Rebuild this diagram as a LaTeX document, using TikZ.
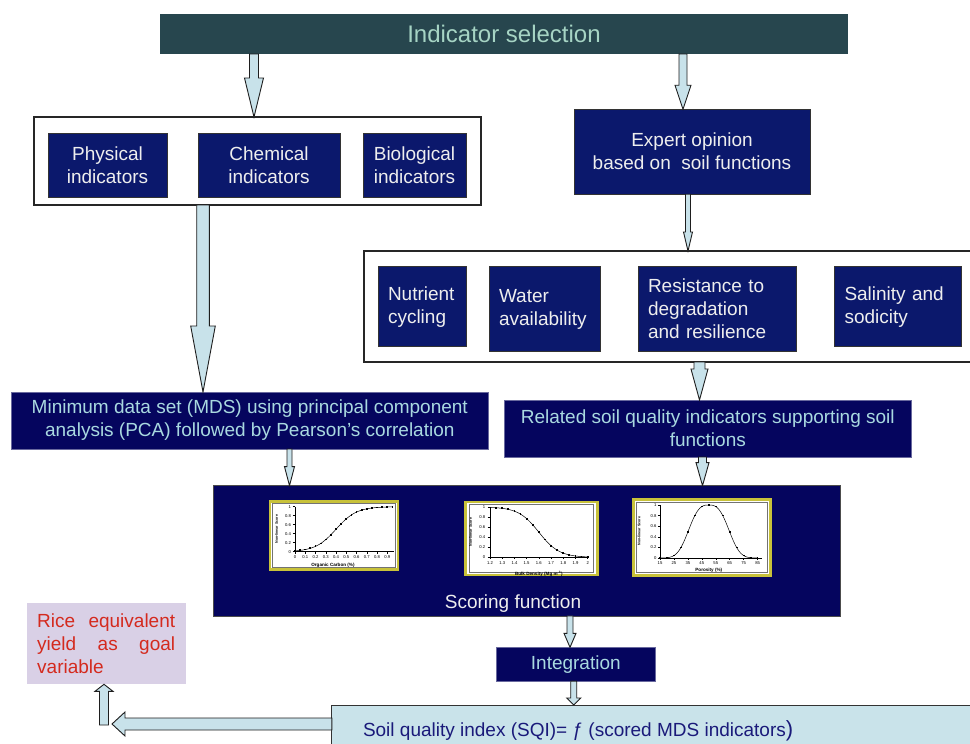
\documentclass[tikz,border=0pt]{standalone}
\usepackage{fontspec}
\setmainfont{Liberation Sans}
\usetikzlibrary{calc}
\definecolor{titlefill}{HTML}{27464E}
\definecolor{titletxt}{HTML}{A6D4C4}
\definecolor{navyA}{HTML}{0B186C}
\definecolor{navyB}{HTML}{05055E}
\definecolor{boxtxt}{HTML}{EEEEEE}
\definecolor{cyantxt}{HTML}{A9D9E0}
\definecolor{arrfill}{HTML}{C8E2EA}
\definecolor{arrline}{HTML}{1E1E1E}
\definecolor{sqifill}{HTML}{C9E3EA}
\definecolor{sqitxt}{HTML}{1A1A7A}
\definecolor{ricefill}{HTML}{D9D0E6}
\definecolor{ricetxt}{HTML}{D42A1E}
\definecolor{gborder}{HTML}{C8C23A}
\newcommand{\blockarrow}[5]{%
  \path (#1) coordinate (baS) (#2) coordinate (baE);
  \path ($(baE)!#5!(baS)$) coordinate (baB);
  \draw[barrow] ($(baS)!#3!90:(baE)$) -- ($(baB)!#3!-90:(baS)$) -- ($(baB)!#4!-90:(baS)$)
    -- (baE) -- ($(baB)!#4!90:(baS)$) -- ($(baB)!#3!90:(baS)$) -- ($(baS)!#3!-90:(baE)$) -- cycle;
}
\tikzset{
  every node/.style={inner sep=0pt, outer sep=0pt},
  bigfont/.style={font=\fontsize{19}{23}\selectfont},
  frame/.style={draw=black!85, line width=1.1pt, fill=white},
  navyboxA/.style={draw=black!80, line width=0.8pt, fill=navyA, text=boxtxt, bigfont, align=center},
  navyboxL/.style={draw=black!80, line width=0.8pt, fill=navyA, text=boxtxt, bigfont, align=left, inner xsep=10pt},
  navyboxB/.style={draw=navyB!60!white, line width=0.6pt, fill=navyB, text=cyantxt, bigfont, align=center},
  barrow/.style={draw=arrline, line width=0.9pt, fill=arrfill, line join=miter},
  gframe/.style={draw=gborder, line width=2.6pt, fill=white},
  ginner/.style={draw=black!55, line width=0.6pt},
  gaxis/.style={draw=black, line width=0.45pt},
  gcurve/.style={draw=black, line width=0.5pt},
  gmark/.style={fill=black, draw=none},
  glab/.style={font=\fontsize{4.2}{5}\selectfont},
  gtitle/.style={font=\bfseries\fontsize{4.6}{5}\selectfont},
  gylab/.style={font=\bfseries\fontsize{3.6}{4}\selectfont, rotate=90},
}
\begin{document}
\begin{tikzpicture}[x=1pt,y=-1pt]
\useasboundingbox (0,0) rectangle (970,744);
\fill[white] (0,0) rectangle (970,744);

% title
\node[fill=titlefill, minimum width=688pt, minimum height=40pt, text=titletxt,
      font=\fontsize{24}{28}\selectfont] (title) at (504,34) {Indicator selection};

% left frame with indicator groups
\node[frame, minimum width=447pt, minimum height=88pt] (leftframe) at (257.5,161) {};
\node[navyboxA, minimum width=119pt, minimum height=64pt] (phys) at (107.5,165) {Physical\\indicators};
\node[navyboxA, minimum width=142pt, minimum height=64pt] (chem) at (269,165) {Chemical\\indicators};
\node[navyboxA, minimum width=103pt, minimum height=64pt] (bio) at (414.5,165) {Biological\\indicators};

% expert opinion
\node[navyboxA, minimum width=236pt, minimum height=85pt] (expert) at (692,151.7) {Expert opinion\\based on\ \ soil functions};

% right frame with soil functions
\node[frame, minimum width=611pt, minimum height=111pt] (rightframe) at (669.5,306.5) {};
\node[navyboxL, text width=68pt, minimum height=80pt] (nutrient) at (422,306.7) {Nutrient\\cycling};
\node[navyboxL, text width=91pt, minimum height=85pt] (water) at (544.5,309.2) {Water\\availability};
\node[navyboxL, text width=138pt, minimum height=85pt] (resist) at (717,309.2) {Resistance to\\degradation\\and resilience};
\node[navyboxL, text width=107pt, minimum height=80pt] (salinity) at (898,306.7) {Salinity and\\sodicity};

% MDS and related
\node[navyboxB, minimum width=477.7pt, minimum height=57pt] (mds) at (249.8,420.5)
  {Minimum data set (MDS) using principal component\\analysis (PCA) followed by Pearson’s correlation};
\node[navyboxB, minimum width=407.7pt, minimum height=57pt] (related) at (707.8,428.5)
  {Related soil quality indicators supporting soil\\functions};

% scoring function
\node[draw=black!70, line width=0.8pt, fill=navyB, minimum width=627pt, minimum height=130.3pt] (scoring) at (526.5,550.8) {};
\node[text=boxtxt, bigfont] (scorelab) at (513,604) {Scoring function};

% graph 1
\node[gframe, minimum width=128pt, minimum height=68pt] (g1) at (333.8,535.5) {};
\draw[ginner] (272,503.5) rectangle (395.6,567.5);
\begin{scope}[shift={(295,551.7)}, x=102.6pt, y=45pt]
  \draw[gaxis] (0,1) -- (0,0) -- (0.96,0);
  \foreach \v/\l in {0/0,0.2/0.2,0.4/0.4,0.6/0.6,0.8/0.8,1/1}{
    \draw[gaxis] (-0.02,\v) -- (0,\v);
    \node[glab, anchor=east] at (-0.04,\v) {\l};}
  \foreach \v/\l in {0/0,0.1/0.1,0.2/0.2,0.3/0.3,0.4/0.4,0.5/0.5,0.6/0.6,0.7/0.7,0.8/0.8,0.9/0.9}{
    \draw[gaxis] (\v,0) -- (\v,-0.04);
    \node[glab, anchor=north] at (\v,-0.08) {\l};}
  \draw[gcurve] plot[domain=0:0.95, samples=60, smooth] (\x,{1/(1+exp(-10*(\x-0.4)))});
  \foreach \t in {0,1,...,19}{
    \pgfmathsetmacro{\u}{\t*0.05}
    \fill[gmark] ($(\u,{1/(1+exp(-10*(\u-0.4)))})+(-0.9pt,-0.9pt)$) rectangle +(1.8pt,1.8pt);}
  \node[gtitle] at (0.37,-0.3) {Organic Carbon (\%)};
\end{scope}
\node[gylab] at (276.7,529) {Non-linear Score};

% graph 2
\node[gframe, minimum width=132pt, minimum height=73pt] (g2) at (531.2,538.5) {};
\draw[ginner] (469.5,504.5) rectangle (593,572.5);
\begin{scope}[shift={(490,557.3)}, x=122.1pt, y=50.3pt]
  \draw[gaxis] (0,1) -- (0,0) -- (0.8,0);
  \foreach \v/\l in {0/0,0.2/0.2,0.4/0.4,0.6/0.6,0.8/0.8,1/1}{
    \draw[gaxis] (-0.02,\v) -- (0,\v);
    \node[glab, anchor=east] at (-0.04,\v) {\l};}
  \foreach \v/\l in {0/1.2,0.1/1.3,0.2/1.4,0.3/1.5,0.4/1.6,0.5/1.7,0.6/1.8,0.7/1.9,0.8/2}{
    \draw[gaxis] (\v,0) -- (\v,-0.04);
    \node[glab, anchor=north] at (\v,-0.08) {\l};}
  \draw[gcurve] plot[domain=0:0.8, samples=60, smooth] (\x,{1/(1+exp(12*(\x-0.4)))});
  \foreach \t in {0,1,...,16}{
    \pgfmathsetmacro{\u}{\t*0.05}
    \fill[gmark] ($(\u,{1/(1+exp(12*(\u-0.4)))})+(-0.9pt,-0.9pt)$) rectangle +(1.8pt,1.8pt);}
  \node[gtitle] at (0.4,-0.33) {Bulk Density (Mg m\textsuperscript{-3})};
\end{scope}
\node[gylab] at (470.5,532) {Non-linear Score};

% graph 3
\node[gframe, minimum width=137pt, minimum height=76pt] (g3) at (701.7,537.5) {};
\draw[ginner] (636.5,502.5) rectangle (767,572.5);
\begin{scope}[shift={(660,558)}, x=1.394pt, y=53pt]
  \draw[gaxis] (0,1) -- (0,0) -- (73,0);
  \foreach \v/\l in {0/0,0.2/0.2,0.4/0.4,0.6/0.6,0.8/0.8,1/1}{
    \draw[gaxis] (-1.5,\v) -- (0,\v);
    \node[glab, anchor=east] at (-2.5,\v) {\l};}
  \foreach \v/\l in {0/15,10/25,20/35,30/45,40/55,50/65,60/75,70/85}{
    \draw[gaxis] (\v,0) -- (\v,-0.04);
    \node[glab, anchor=north] at (\v,-0.07) {\l};}
  \draw[gcurve] plot[domain=0:70, samples=90, smooth] (\x,{exp(-pow(((\x-35)/16.9)^2+0.00001,1.435))});
  \foreach \t in {0,1,...,14}{
    \pgfmathsetmacro{\u}{\t*5}
    \fill[gmark] ($(\u,{exp(-pow(((\u-35)/16.9)^2+0.00001,1.435))})+(-0.9pt,-0.9pt)$) rectangle +(1.8pt,1.8pt);}
  \node[gtitle] at (35,-0.23) {Porosity (\%)};
\end{scope}
\node[gylab] at (639,531) {Non-linear Score};

% integration
\node[navyboxB, minimum width=158.3pt, minimum height=33.7pt] (integ) at (575.8,664.2) {Integration};

% SQI
\node[draw=black!80, line width=1pt, fill=sqifill, minimum width=648pt, minimum height=55pt] (sqi) at (655.8,732.5) {};
\node[text=sqitxt, bigfont, anchor=base west] (sqitext) at (363,736.5)
  {Soil quality index (SQI)= ƒ (scored MDS indicators{\fontsize{22}{24}\selectfont )}};

% rice box
\node[fill=ricefill, text=ricetxt, bigfont, text width=138pt, inner xsep=10.5pt,
      minimum height=81.6pt, align=justify] (rice) at (106.2,643.5)
  {\hyphenpenalty=10000 Rice equivalent yield as goal variable};

% connectors
\coordinate (leftend) at (112,724);
\coordinate (upstart) at (104,725);
\blockarrow{254,0 |- title.south}{254,0 |- leftframe.north}{4.5pt}{9.5pt}{39pt}
\blockarrow{683,0 |- title.south}{683,0 |- expert.north}{4pt}{8pt}{24pt}
\blockarrow{203,0 |- leftframe.south}{203,0 |- mds.north}{6.3pt}{12.3pt}{66pt}
\blockarrow{688,0 |- expert.south}{688,0 |- rightframe.north}{2.5pt}{4.5pt}{19pt}
\blockarrow{699.5,0 |- rightframe.south}{699.5,0 |- related.north}{5.5pt}{8.5pt}{31pt}
\blockarrow{289.5,0 |- mds.south}{289.5,0 |- scoring.north}{2.5pt}{5pt}{19pt}
\blockarrow{702.5,0 |- related.south}{702.5,0 |- scoring.north}{4pt}{6.5pt}{23pt}
\blockarrow{570,0 |- scoring.south}{570,0 |- integ.north}{3pt}{6pt}{14pt}
\blockarrow{573.7,0 |- integ.south}{573.7,0 |- sqi.north}{3pt}{7pt}{7pt}
\blockarrow{sqi.west |- 0,724}{leftend}{6pt}{12pt}{13pt}
\blockarrow{upstart}{104,0 |- rice.south}{4.5pt}{9pt}{7pt}
\end{tikzpicture}
\end{document}
